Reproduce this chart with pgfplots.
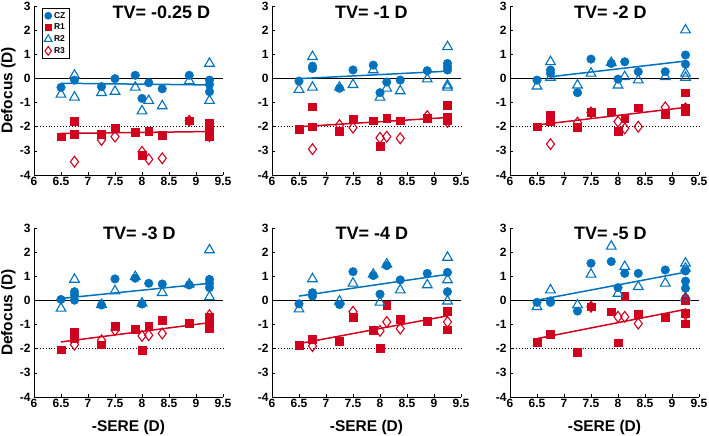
\documentclass[border=0pt]{standalone}
\usepackage{pgfplots}
\pgfplotsset{compat=1.18}
\usepackage{fontspec}
\setmainfont{Liberation Sans}
\definecolor{mblue}{RGB}{0,114,189}
\definecolor{mred}{RGB}{208,0,30}
\tikzset{ttl/.style={font=\fontsize{18}{20}\selectfont\bfseries}}
\pgfplotsset{
  panel/.style={
    width=189pt, height=169pt, scale only axis,
    xmin=6, xmax=9.5, ymin=-4, ymax=3,
    axis lines=left, axis line style={-, line width=0.8pt},
    tick align=inside, major tick length=3pt,
    tick style={line width=0.6pt, black},
    xtick={6,6.5,7,7.5,8,8.5,9,9.5},
    xticklabels={6,6.5,7,7.5,8,8.5,9,9.5},
    ytick={-4,-3,-2,-1,0,1,2,3},
    yticklabels={-4,-3,-2,-1,0,1,2,3},
    every tick label/.append style={font=\fontsize{12}{13}\selectfont\bfseries},
    xticklabel style={yshift=1pt},
    clip=false,
    anchor=south west,
  },
  cz/.style={only marks, mark=*, mark size=4.3pt, mblue, mark options={fill=mblue, draw=mblue}},
  rone/.style={only marks, mark=square*, mark size=3.9pt, mred, mark options={fill=mred, draw=mred}},
  rtwo/.style={only marks, mark=triangle, mark size=5.6pt, mblue, mark options={line width=1.1pt, draw=mblue}},
  rthree/.style={only marks, mark=diamond, mark size=5.4pt, mred, mark options={line width=1.1pt, draw=mred}},
  bfit/.style={no marks, mblue, line width=1.5pt},
  rfit/.style={no marks, mred, line width=1.5pt},
  zline/.style={no marks, black, line width=1.3pt},
  dline/.style={no marks, black, line width=0.9pt, dotted},
  ylab/.style={ylabel={Defocus (D)}, ylabel style={font=\fontsize{15.5}{17}\selectfont\bfseries, at={(axis description cs:-0.135,0.5)}, anchor=center}},
  xlab/.style={xlabel={-SERE (D)}, xlabel style={font=\fontsize{15.5}{17}\selectfont\bfseries, at={(axis description cs:0.5,-0.178)}, anchor=center}},
}
\begin{document}
\begin{tikzpicture}
\useasboundingbox (0,0) rectangle (709pt,436pt);
% ---------- Panel 1: TV = -0.25 D
\begin{axis}[panel, ylab, at={(34pt,261pt)},
  legend style={at={(0.042,0.99)}, anchor=north west, draw=black, line width=0.8pt,
    font=\fontsize{8.5}{9}\selectfont\bfseries, row sep=0.3pt, inner sep=2pt},
  legend image post style={scale=0.8},
  legend cell align=left]
\addplot[cz] coordinates {(6.5,-0.37)(6.75,-0.07)(7.25,-0.34)(7.5,-0.01)(7.875,0.13)(8.0,-0.83)(8.125,-0.18)(8.375,-0.43)(8.875,0.13)(9.25,-0.07)(9.25,-0.25)(9.25,-0.55)};
\addlegendentry{CZ}
\addplot[rone] coordinates {(6.5,-2.41)(6.75,-1.78)(6.75,-2.3)(7.25,-2.3)(7.5,-2.05)(7.875,-2.23)(8.0,-3.17)(8.125,-2.17)(8.375,-2.35)(8.875,-1.75)(9.25,-1.86)(9.25,-2.14)(9.25,-2.41)};
\addlegendentry{R1}
\addplot[rtwo] coordinates {(6.5,-0.66)(6.75,0.13)(6.75,-0.78)(7.25,-0.59)(7.5,-0.54)(7.875,-0.37)(8.0,-1.35)(8.125,-0.92)(8.375,-1.14)(8.875,-0.1)(9.25,0.62)(9.25,-0.92)};
\addlegendentry{R2}
\addplot[rthree] coordinates {(6.75,-3.45)(7.25,-2.55)(7.5,-2.41)(8.0,-3.04)(8.125,-3.35)(8.375,-3.31)(8.875,-1.75)(9.25,-2.39)};
\addlegendentry{R3}
\addplot[zline, forget plot] coordinates {(6,0)(9.5,0)};
\addplot[dline, forget plot] coordinates {(6,-2)(9.5,-2)};
\addplot[bfit, forget plot] coordinates {(6.5,-0.2)(9.25,-0.27)};
\addplot[rfit, forget plot] coordinates {(6.5,-2.28)(9.25,-2.2)};
\node[ttl] at (axis cs:8.36,2.74) {TV= -0.25 D};
\end{axis}
% ---------- Panel 2: TV = -1 D
\begin{axis}[panel, at={(272pt,261pt)}]
\addplot[cz] coordinates {(6.5,-0.11)(6.75,0.51)(6.75,0.41)(7.25,-0.41)(7.5,0.35)(7.875,0.55)(8.0,-0.59)(8.125,-0.15)(8.375,-0.07)(8.875,0.32)(9.25,0.62)(9.25,0.48)(9.25,0.35)};
\addplot[rone] coordinates {(6.5,-2.11)(6.75,-1.17)(6.75,-2.0)(7.25,-2.17)(7.5,-1.7)(7.875,-1.75)(8.0,-2.8)(8.125,-1.66)(8.375,-1.75)(8.875,-1.66)(9.25,-1.1)(9.25,-1.59)(9.25,-1.75)};
\addplot[rtwo] coordinates {(6.5,-0.46)(6.75,0.9)(6.75,-0.37)(7.25,-0.37)(7.5,-0.26)(7.875,0.35)(8.0,-0.78)(8.125,-0.41)(8.375,-0.52)(8.875,-0.03)(9.25,1.31)(9.25,-0.28)(9.25,-0.37)};
\addplot[rthree] coordinates {(6.75,-2.93)(7.25,-1.93)(7.5,-2.04)(8.0,-2.46)(8.125,-2.41)(8.375,-2.48)(8.875,-1.56)(9.25,-1.8)};
\addplot[zline] coordinates {(6,0)(9.5,0)};
\addplot[dline] coordinates {(6,-2)(9.5,-2)};
\addplot[bfit] coordinates {(6.5,-0.01)(9.25,0.3)};
\addplot[rfit] coordinates {(6.5,-2.0)(9.25,-1.62)};
\node[ttl] at (axis cs:7.84,2.74) {TV= -1 D};
\end{axis}
% ---------- Panel 3: TV = -2 D
\begin{axis}[panel, at={(510pt,261pt)}]
\addplot[cz] coordinates {(6.5,-0.07)(6.75,0.35)(6.75,0.21)(7.25,-0.59)(7.5,0.8)(7.875,0.62)(8.0,-0.03)(8.125,0.69)(8.375,0.28)(8.875,0.28)(9.25,0.97)(9.25,0.59)};
\addplot[rone] coordinates {(6.5,-2.0)(6.75,-1.52)(6.75,-1.79)(7.25,-2.03)(7.5,-1.41)(7.875,-1.38)(8.0,-2.17)(8.125,-1.66)(8.375,-1.21)(8.875,-1.48)(9.25,-0.59)(9.25,-1.24)(9.25,-1.38)};
\addplot[rtwo] coordinates {(6.5,-0.32)(6.75,0.69)(6.75,0.04)(7.25,-0.28)(7.5,0.21)(7.875,0.65)(8.0,-0.28)(8.125,0.07)(8.375,-0.07)(8.875,0.07)(9.25,2.0)(9.25,0.21)(9.25,0.04)};
\addplot[rthree] coordinates {(6.75,-2.72)(7.25,-1.83)(7.5,-1.41)(8.0,-1.79)(8.125,-2.07)(8.375,-2.0)(8.875,-1.2)(9.25,-1.24)};
\addplot[zline] coordinates {(6,0)(9.5,0)};
\addplot[dline] coordinates {(6,-2)(9.5,-2)};
\addplot[bfit] coordinates {(6.75,0.07)(9.25,0.72)};
\addplot[rfit] coordinates {(6.5,-1.93)(9.25,-1.2)};
\node[ttl] at (axis cs:7.86,2.74) {TV= -2 D};
\end{axis}
% ---------- Panel 4: TV = -3 D
\begin{axis}[panel, ylab, xlab, at={(34pt,39pt)}]
\addplot[cz] coordinates {(6.5,0.04)(6.75,0.36)(6.75,0.22)(6.75,0.01)(7.25,-0.19)(7.5,0.89)(7.875,0.92)(8.0,-0.15)(8.125,0.71)(8.375,0.68)(8.875,0.64)(9.25,0.87)(9.25,0.71)(9.25,0.53)};
\addplot[rone] coordinates {(6.5,-2.04)(6.75,-1.33)(6.75,-1.58)(7.25,-1.83)(7.5,-1.07)(7.875,-1.2)(8.0,-2.07)(8.125,-1.07)(8.375,-0.83)(8.875,-0.93)(9.25,-0.68)(9.25,-0.96)(9.25,-1.17)};
\addplot[rtwo] coordinates {(6.5,-0.33)(6.75,0.87)(7.25,-0.17)(7.5,0.39)(7.875,0.98)(8.0,-0.12)(8.375,0.32)(8.875,0.67)(9.25,2.09)(9.25,0.15)};
\addplot[rthree] coordinates {(6.75,-1.83)(7.25,-1.65)(7.5,-1.23)(8.0,-1.47)(8.125,-1.44)(8.375,-1.37)(9.25,-0.61)};
\addplot[zline] coordinates {(6,0)(9.5,0)};
\addplot[dline] coordinates {(6,-2)(9.5,-2)};
\addplot[bfit] coordinates {(6.5,0.08)(9.25,0.71)};
\addplot[rfit] coordinates {(6.5,-1.72)(9.25,-0.92)};
\node[ttl] at (axis cs:7.95,2.76) {TV= -3 D};
\end{axis}
% ---------- Panel 5: TV = -4 D
\begin{axis}[panel, xlab, at={(272pt,39pt)}]
\addplot[cz] coordinates {(6.5,-0.14)(6.75,0.32)(6.75,0.18)(7.25,-0.17)(7.5,1.19)(7.875,1.03)(8.0,0.26)(8.125,1.44)(8.375,0.85)(8.875,1.12)(9.25,1.16)(9.25,0.36)};
\addplot[rone] coordinates {(6.5,-1.86)(6.75,-1.62)(7.25,-1.69)(7.5,-0.68)(7.875,-1.23)(8.0,-1.97)(8.125,-0.19)(8.375,-0.79)(8.875,-0.86)(9.25,-0.43)(9.25,-1.21)};
\addplot[rtwo] coordinates {(6.5,-0.36)(6.75,0.89)(7.25,-0.03)(7.5,0.71)(7.875,1.08)(8.0,-0.08)(8.125,1.5)(8.375,0.43)(8.875,0.64)(9.25,1.78)(9.25,0.85)(9.25,-0.03)};
\addplot[rthree] coordinates {(6.75,-1.89)(7.5,-0.47)(8.0,-1.26)(8.125,-0.89)(8.375,-1.17)(9.25,-0.89)};
\addplot[zline] coordinates {(6,0)(9.5,0)};
\addplot[dline] coordinates {(6,-2)(9.5,-2)};
\addplot[bfit] coordinates {(6.5,0.18)(9.25,1.08)};
\addplot[rfit] coordinates {(6.5,-1.79)(9.25,-0.64)};
\node[ttl] at (axis cs:7.85,2.76) {TV= -4 D};
\end{axis}
% ---------- Panel 6: TV = -5 D
\begin{axis}[panel, xlab, at={(510pt,39pt)}]
\addplot[cz] coordinates {(6.5,-0.08)(6.75,-0.08)(6.75,-0.02)(7.25,-0.44)(7.5,1.54)(7.875,1.61)(8.0,0.53)(8.125,1.12)(8.375,1.12)(8.875,1.26)(9.25,1.22)(9.25,0.8)(9.25,0.5)(9.25,0.08)};
\addplot[rone] coordinates {(6.5,-1.74)(6.75,-1.41)(7.25,-2.16)(7.5,-0.26)(7.875,-0.47)(8.0,-1.75)(8.125,0.19)(8.375,-0.58)(8.875,-0.71)(9.25,-0.01)(9.25,-0.54)(9.25,-0.96)};
\addplot[rtwo] coordinates {(6.5,-0.26)(6.75,0.43)(7.25,-0.19)(7.5,1.08)(7.875,2.24)(8.0,0.29)(8.125,1.4)(8.375,0.57)(8.875,0.71)(9.25,1.54)(9.25,1.33)(9.25,0.11)};
\addplot[rthree] coordinates {(7.5,-0.26)(8.0,-0.68)(8.125,-0.68)(8.375,-0.96)(9.25,-0.58)(9.25,0.08)};
\addplot[zline] coordinates {(6,0)(9.5,0)};
\addplot[dline] coordinates {(6,-2)(9.5,-2)};
\addplot[bfit] coordinates {(6.5,0.01)(9.25,1.17)};
\addplot[rfit] coordinates {(6.5,-1.58)(9.25,-0.37)};
\node[ttl] at (axis cs:7.86,2.76) {TV= -5 D};
\end{axis}
\end{tikzpicture}
\end{document}
